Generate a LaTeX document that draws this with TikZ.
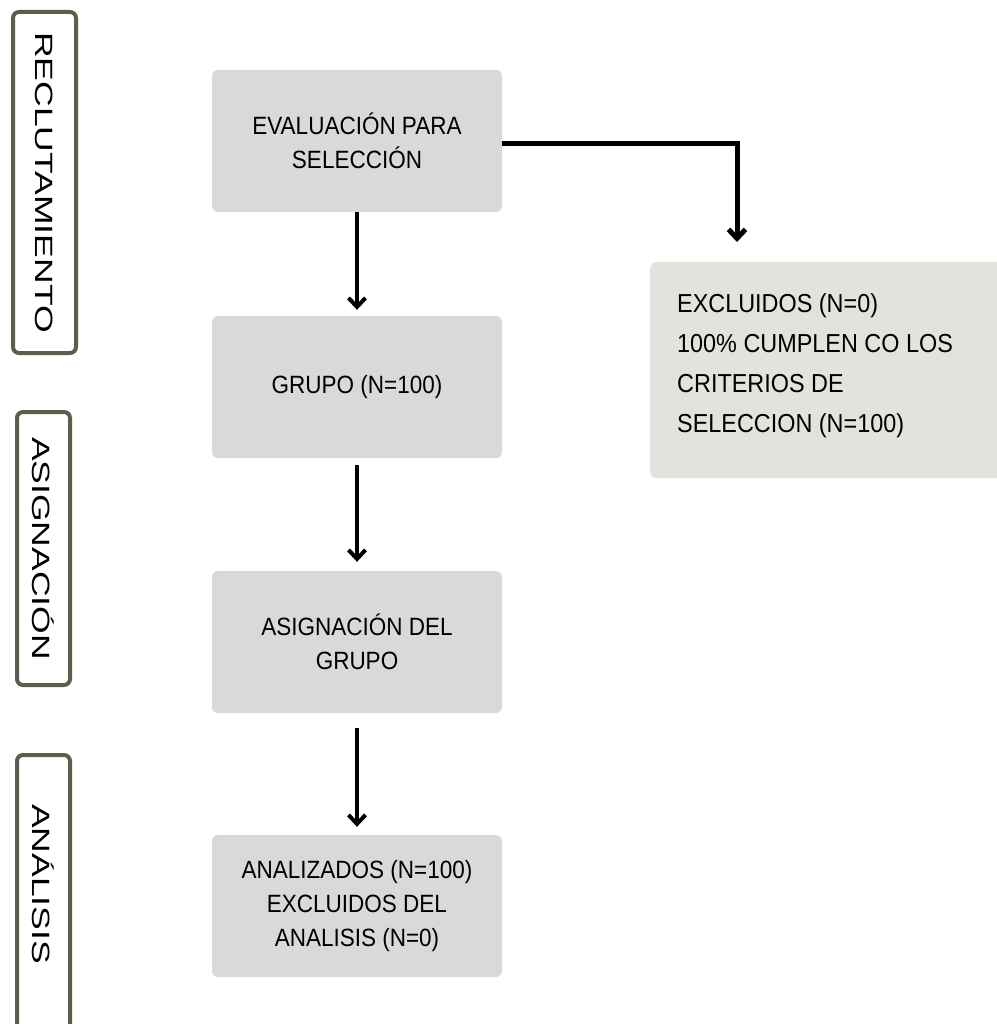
\documentclass[tikz,border=0pt]{standalone}
\usepackage{fontspec}
\setmainfont{Liberation Sans}
\newfontfamily\boxfont{Liberation Sans}[FakeStretch=0.9]
\usetikzlibrary{arrows.meta}
\definecolor{boxgray}{HTML}{D9D9D9}
\definecolor{exclgray}{HTML}{E3E3DD}
\definecolor{olive}{HTML}{5A5E4B}
\tikzset{
  stepbox/.style={fill=boxgray, rounded corners=6pt, minimum width=290pt, minimum height=142pt, inner sep=0pt, align=center, font=\boxfont\fontsize{25}{34}\selectfont},
  phasebox/.style={draw=olive, line width=4pt, rounded corners=6pt, fill=white, inner sep=0pt, rotate=-90, font=\fontsize{25}{30}\selectfont},
  arr/.style={line width=4pt, -{Straight Barb[length=9pt,width=17pt]}},
}
\newcommand{\wide}[1]{\scalebox{1.42}[1]{#1}}
\begin{document}
\begin{tikzpicture}[x=1pt,y=-1pt]
\useasboundingbox (0,0) rectangle (996,1024);
\fill[white] (0,0) rectangle (996,1024);
% phase labels
\node[phasebox, minimum width=341pt, minimum height=63pt] (reclut) at (44.5,182.5) {\wide{RECLUTAMIENTO}};
\node[phasebox, minimum width=273pt, minimum height=53pt] (asigl) at (43.5,548.5) {\wide{ASIGNACIÓN}};
\draw[draw=olive, line width=4pt, rounded corners=6pt] (17,1045) -- (17,755) -- (70,755) -- (70,1045);
\node[rotate=-90, inner sep=0pt, font=\fontsize{25}{30}\selectfont] (anal) at (43.5,884) {\wide{ANÁLISIS}};
% main boxes
\node[stepbox] (eval) at (357,141) {EVALUACIÓN PARA\\SELECCIÓN};
\node[stepbox] (grupo) at (357,387) {GRUPO (N=100)};
\node[stepbox] (asig) at (357,642) {ASIGNACIÓN DEL\\GRUPO};
\node[stepbox] (analiz) at (357,906) {ANALIZADOS (N=100)\\EXCLUIDOS DEL\\ANALISIS (N=0)};
\node[fill=exclgray, rounded corners=6pt, minimum width=380pt, minimum height=216pt, inner sep=0pt, anchor=north west] (excl) at (650,262) {};
\node[anchor=west, align=left, inner sep=0pt, font=\boxfont\fontsize{26}{40}\selectfont] (excltext) at (677,366) {EXCLUIDOS (N=0)\\100\% CUMPLEN CO LOS\\CRITERIOS DE\\SELECCION (N=100)};
% connectors
\draw[arr, shorten >=6pt] (eval.south) -- (grupo.north);
\draw[arr, shorten <=7pt, shorten >=9pt] (grupo.south) -- (asig.north);
\draw[arr, shorten <=15pt, shorten >=8pt] (asig.south) -- (analiz.north);
\coordinate (corner) at (737,144);
\draw[line width=5pt, -{Straight Barb[length=9pt,width=17pt]}, shorten >=20pt] (eval.east |- corner) -- (corner) -- (corner |- excl.north);
\end{tikzpicture}
\end{document}
